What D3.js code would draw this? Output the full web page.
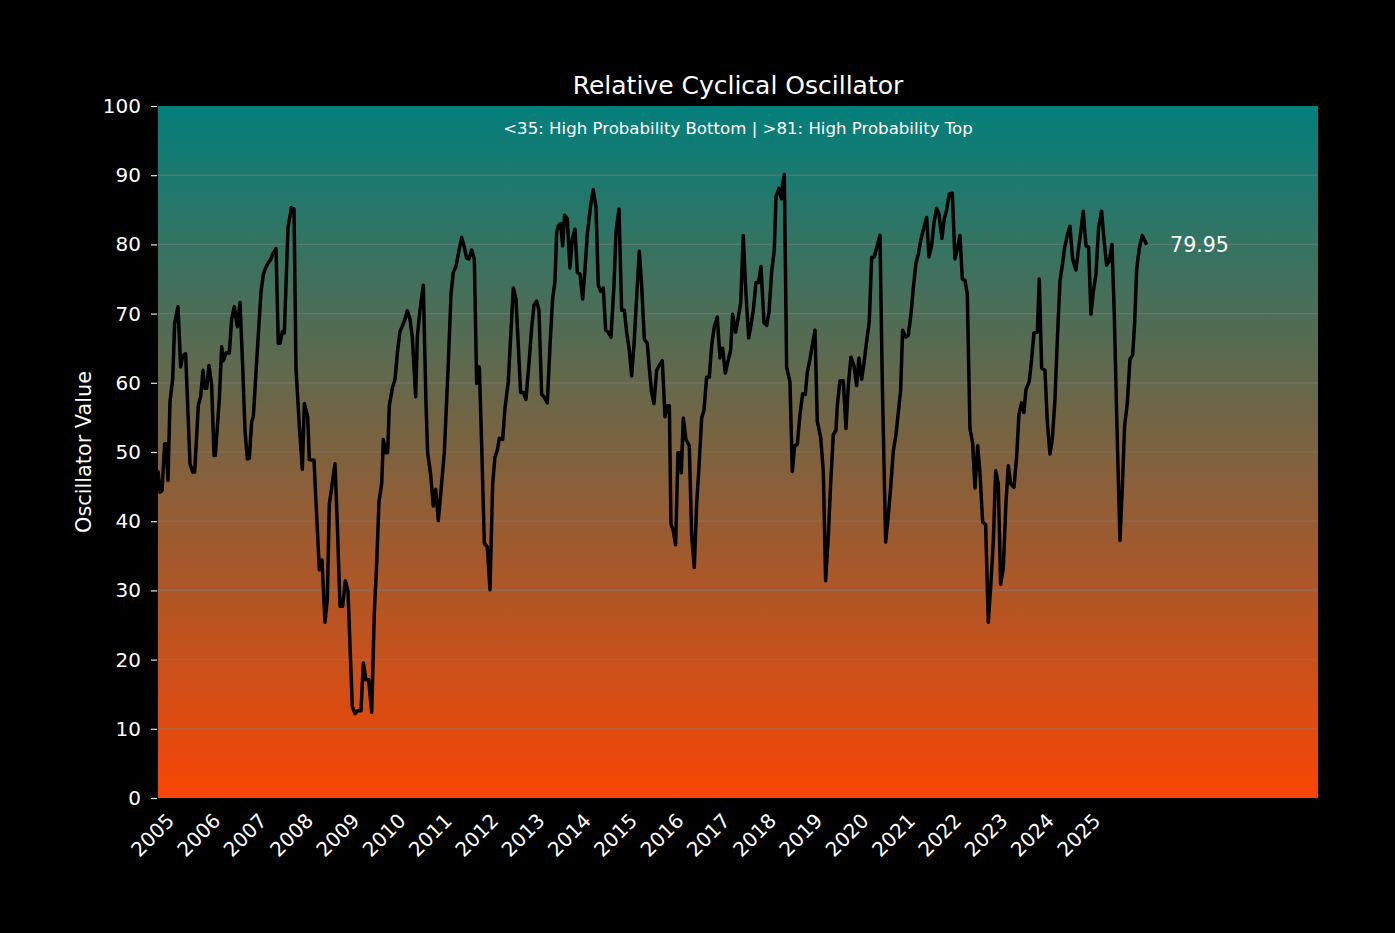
<!DOCTYPE html>
<html>
<head>
<meta charset="utf-8">
<script src="https://d3js.org/d3.v7.min.js"></script>
<style>
body { margin: 0; background: #000; }
svg text { font-family: "DejaVu Sans", sans-serif; fill: #fff; }
</style>
</head>
<body>
<div id="vis"></div>
<script>
const margin = { top: 106, right: 77, bottom: 135, left: 158 };
const width = 1395 - margin.left - margin.right;
const height = 933 - margin.top - margin.bottom;

// oscillator readings, dates as decimal years
const years = [
  2005.000, 2005.043, 2005.086, 2005.144, 2005.173, 2005.216, 2005.259, 2005.317, 2005.360, 2005.432,
  2005.489, 2005.533, 2005.597, 2005.691, 2005.749, 2005.792, 2005.871, 2005.921, 2005.972, 2006.008,
  2006.051, 2006.101, 2006.159, 2006.209, 2006.238, 2006.324, 2006.375, 2006.411, 2006.468, 2006.540,
  2006.591, 2006.648, 2006.713, 2006.771, 2006.828, 2006.879, 2006.929, 2006.972, 2007.023, 2007.059,
  2007.145, 2007.224, 2007.275, 2007.325, 2007.382, 2007.433, 2007.476, 2007.548, 2007.598, 2007.634,
  2007.685, 2007.728, 2007.807, 2007.879, 2007.937, 2007.980, 2008.052, 2008.117, 2008.160, 2008.232,
  2008.268, 2008.369, 2008.426, 2008.484, 2008.541, 2008.606, 2008.656, 2008.700, 2008.750, 2008.822,
  2008.872, 2008.930, 2008.987, 2009.045, 2009.103, 2009.160, 2009.196, 2009.254, 2009.311, 2009.383,
  2009.434, 2009.491, 2009.549, 2009.614, 2009.671, 2009.722, 2009.772, 2009.830, 2009.866, 2009.916,
  2009.959, 2009.995, 2010.060, 2010.118, 2010.175, 2010.225, 2010.283, 2010.334, 2010.384, 2010.441,
  2010.492, 2010.564, 2010.600, 2010.657, 2010.729, 2010.787, 2010.823, 2010.888, 2010.945, 2010.996,
  2011.053, 2011.111, 2011.183, 2011.269, 2011.327, 2011.377, 2011.435, 2011.485, 2011.557, 2011.608,
  2011.665, 2011.715, 2011.773, 2011.831, 2011.881, 2011.939, 2011.989, 2012.047, 2012.111, 2012.169,
  2012.227, 2012.277, 2012.327, 2012.371, 2012.443, 2012.493, 2012.565, 2012.615, 2012.673, 2012.730,
  2012.781, 2012.831, 2012.889, 2012.946, 2013.011, 2013.069, 2013.119, 2013.177, 2013.227, 2013.285,
  2013.335, 2013.407, 2013.465, 2013.522, 2013.573, 2013.609, 2013.645, 2013.695, 2013.738, 2013.781,
  2013.839, 2013.896, 2013.947, 2014.004, 2014.055, 2014.112, 2014.170, 2014.220, 2014.271, 2014.343,
  2014.400, 2014.458, 2014.508, 2014.559, 2014.616, 2014.667, 2014.724, 2014.782, 2014.847, 2014.890,
  2014.955, 2015.012, 2015.070, 2015.120, 2015.178, 2015.228, 2015.279, 2015.336, 2015.394, 2015.444,
  2015.502, 2015.566, 2015.610, 2015.660, 2015.710, 2015.768, 2015.826, 2015.890, 2015.948, 2015.998,
  2016.042, 2016.078, 2016.128, 2016.178, 2016.229, 2016.272, 2016.301, 2016.344, 2016.401, 2016.473,
  2016.524, 2016.581, 2016.632, 2016.689, 2016.740, 2016.790, 2016.848, 2016.905, 2016.956, 2017.013,
  2017.078, 2017.136, 2017.193, 2017.251, 2017.308, 2017.366, 2017.409, 2017.474, 2017.517, 2017.582,
  2017.639, 2017.690, 2017.755, 2017.805, 2017.855, 2017.913, 2017.971, 2018.021, 2018.086, 2018.143,
  2018.194, 2018.251, 2018.309, 2018.345, 2018.410, 2018.460, 2018.489, 2018.525, 2018.575, 2018.647,
  2018.698, 2018.748, 2018.806, 2018.863, 2018.921, 2018.978, 2019.022, 2019.079, 2019.129, 2019.187,
  2019.237, 2019.309, 2019.367, 2019.417, 2019.475, 2019.525, 2019.583, 2019.640, 2019.669, 2019.727,
  2019.799, 2019.857, 2019.907, 2019.964, 2020.029, 2020.087, 2020.137, 2020.195, 2020.245, 2020.303,
  2020.360, 2020.411, 2020.468, 2020.519, 2020.591, 2020.641, 2020.713, 2020.771, 2020.821, 2020.879,
  2020.936, 2020.987, 2021.037, 2021.080, 2021.145, 2021.203, 2021.260, 2021.311, 2021.368, 2021.419,
  2021.469, 2021.527, 2021.598, 2021.649, 2021.706, 2021.757, 2021.814, 2021.865, 2021.929, 2021.980,
  2022.030, 2022.088, 2022.153, 2022.210, 2022.268, 2022.318, 2022.369, 2022.426, 2022.477, 2022.534,
  2022.592, 2022.642, 2022.700, 2022.750, 2022.808, 2022.872, 2022.930, 2022.988, 2023.038, 2023.089,
  2023.146, 2023.196, 2023.254, 2023.312, 2023.362, 2023.412, 2023.484, 2023.542, 2023.592, 2023.650,
  2023.700, 2023.743, 2023.815, 2023.866, 2023.916, 2023.988, 2024.031, 2024.082, 2024.154, 2024.204,
  2024.262, 2024.312, 2024.370, 2024.420, 2024.478, 2024.528, 2024.578, 2024.643, 2024.694, 2024.751,
  2024.823, 2024.881, 2024.938, 2024.981, 2025.039, 2025.096, 2025.147, 2025.197, 2025.255, 2025.312,
  2025.377, 2025.428, 2025.485, 2025.543, 2025.601, 2025.651, 2025.701, 2025.773, 2025.824, 2025.874,
  2025.932, 2025.989, 2026.047, 2026.090, 2026.133, 2026.191, 2026.255, 2026.298, 2026.349
];

const values = [
  47.3, 44.2, 44.4, 51.2, 51.2, 45.9, 57.3, 60.5, 68.6, 71.0,
  62.3, 63.9, 64.2, 48.3, 47.1, 47.1, 56.8, 58.0, 61.8, 59.2,
  59.2, 62.5, 59.6, 49.5, 49.5, 57.6, 65.2, 63.2, 64.3, 64.3,
  69.2, 71.0, 68.1, 71.6, 62.5, 53.1, 49.0, 49.1, 54.4, 55.1,
  64.7, 73.1, 75.7, 76.6, 77.4, 77.8, 78.6, 79.4, 65.7, 65.7,
  67.4, 67.2, 82.4, 85.3, 85.1, 62.1, 53.8, 47.5, 57.0, 55.1,
  48.9, 48.8, 40.9, 33.0, 34.4, 25.4, 28.7, 42.5, 44.8, 48.3,
  39.6, 27.7, 27.7, 31.4, 29.9, 19.6, 13.2, 12.2, 12.6, 12.6,
  19.5, 17.1, 17.1, 12.4, 26.7, 33.8, 42.8, 45.4, 51.8, 49.9,
  49.9, 56.7, 59.2, 60.5, 64.7, 67.4, 68.3, 69.2, 70.4, 69.2,
  66.6, 58.0, 66.6, 70.5, 74.1, 57.0, 49.9, 46.7, 42.2, 44.6,
  40.1, 44.4, 49.9, 62.8, 72.8, 76.0, 76.8, 78.6, 81.0, 79.8,
  78.0, 77.9, 79.2, 77.9, 59.9, 62.3, 51.2, 36.8, 36.3, 30.1,
  45.4, 49.3, 50.2, 52.0, 51.8, 56.3, 60.2, 66.6, 73.7, 72.1,
  65.4, 58.6, 58.6, 57.6, 62.8, 67.9, 71.2, 71.8, 70.5, 58.3,
  58.0, 57.1, 65.4, 72.1, 74.7, 81.8, 82.7, 83.0, 79.8, 84.2,
  83.7, 76.6, 80.8, 82.2, 76.0, 75.7, 72.1, 76.3, 81.5, 85.6,
  87.9, 85.4, 74.1, 73.2, 73.7, 67.6, 67.3, 66.6, 74.1, 81.8,
  85.1, 70.5, 70.5, 67.3, 64.7, 61.0, 65.4, 72.4, 79.0, 74.1,
  66.3, 65.7, 62.1, 58.6, 57.0, 61.8, 62.5, 63.2, 55.1, 56.7,
  56.7, 39.6, 38.6, 36.6, 49.9, 49.9, 47.0, 54.9, 51.8, 50.9,
  38.0, 33.3, 42.5, 48.6, 54.9, 56.0, 60.8, 60.8, 65.4, 68.1,
  69.5, 63.6, 65.0, 61.4, 63.1, 64.7, 69.9, 67.3, 68.9, 71.5,
  81.3, 73.7, 66.5, 68.3, 70.5, 74.5, 74.5, 76.8, 68.7, 68.3,
  70.2, 76.0, 79.2, 86.9, 88.1, 86.6, 88.7, 90.1, 62.3, 60.1,
  47.2, 50.9, 51.1, 55.4, 58.4, 58.3, 61.5, 63.4, 65.4, 67.6,
  54.4, 52.2, 47.3, 31.4, 37.7, 45.4, 52.5, 53.1, 56.7, 60.3,
  60.3, 53.4, 59.6, 63.7, 62.5, 59.6, 63.6, 60.5, 62.8, 66.0,
  68.9, 78.1, 78.2, 79.5, 81.3, 60.2, 37.0, 40.9, 44.8, 50.2,
  52.5, 55.7, 58.9, 67.6, 66.6, 66.9, 69.9, 73.7, 77.3, 78.6,
  80.5, 82.1, 83.9, 78.2, 79.8, 83.1, 85.2, 84.4, 80.9, 83.7,
  85.0, 87.3, 87.4, 77.9, 79.5, 81.3, 75.0, 74.8, 72.8, 53.4,
  51.3, 44.8, 50.9, 47.0, 39.9, 39.5, 25.4, 31.2, 37.0, 47.3,
  45.4, 30.9, 33.2, 42.8, 48.0, 45.4, 44.9, 49.3, 55.4, 57.1,
  55.7, 59.0, 60.2, 63.4, 67.2, 67.3, 75.0, 62.1, 61.8, 54.4,
  49.7, 51.8, 57.6, 66.0, 74.7, 77.0, 79.5, 81.5, 82.6, 77.9,
  76.3, 79.5, 82.4, 84.8, 79.8, 79.6, 69.9, 73.1, 75.7, 82.4,
  84.8, 80.8, 77.0, 77.6, 80.0, 69.9, 55.7, 37.2, 44.8, 53.8,
  57.0, 63.4, 64.0, 68.5, 76.3, 79.5, 81.3, 80.7, 79.95
];

const yearTicks = d3.range(2005, 2026);
const valueTicks = d3.range(0, 101, 10);
const gridValues = d3.range(10, 100, 10);

const chartTitle = 'Relative Cyclical Oscillator';
const note = '<35: High Probability Bottom | >81: High Probability Top';

const data = years.map((yr, i) => ({ year: yr, value: values[i] }));

const svg = d3.select('#vis')
    .append('svg')
    .attr('width', width + margin.left + margin.right)
    .attr('height', height + margin.top + margin.bottom)
    .style('background', '#000')
    .append('g')
    .attr('transform', `translate(${margin.left},${margin.top})`);

const xScale = d3.scaleLinear()
    .domain([2005, 2030.05])
    .range([0, width]);

const yScale = d3.scaleLinear()
    .domain([0, 100])
    .range([height, 0]);

function drawBackground(){
    const grad = svg.append('defs')
        .append('linearGradient')
        .attr('id', 'bg')
        .attr('x1', 0).attr('y1', 0)
        .attr('x2', 0).attr('y2', 1);
    grad.append('stop').attr('offset', '0%').attr('stop-color', '#037f7b');
    grad.append('stop').attr('offset', '100%').attr('stop-color', '#f94503');

    svg.append('rect')
        .attr('width', width)
        .attr('height', height)
        .attr('fill', 'url(#bg)');

    svg.selectAll('.grid')
        .data(gridValues)
        .join('line')
        .attr('class', 'grid')
        .attr('x1', 0)
        .attr('x2', width)
        .attr('y1', d => yScale(d))
        .attr('y2', d => yScale(d))
        .attr('stroke', '#808080')
        .attr('stroke-opacity', 0.5)
        .attr('stroke-width', 1.2);
}

function drawAxes(){
    const yAxis = d3.axisLeft(yScale)
        .tickValues(valueTicks)
        .tickSize(6)
        .tickPadding(10);

    const yg = svg.append('g')
        .attr('transform', 'translate(-1,0)')
        .call(yAxis);
    yg.select('.domain').remove();
    yg.selectAll('line').attr('stroke', '#e6e6e6').attr('stroke-width', 1.2);
    yg.attr('font-size', null).attr('font-family', null);
    yg.selectAll('text').style('font-size', '20px');

    const xAxis = d3.axisBottom(xScale)
        .tickValues(yearTicks)
        .tickSize(0)
        .tickFormat(d3.format('d'));

    const xg = svg.append('g')
        .attr('transform', `translate(0,${height})`)
        .call(xAxis);
    xg.select('.domain').remove();
    xg.attr('font-size', null).attr('font-family', null);
    xg.selectAll('text')
        .attr('y', null)
        .attr('dy', null)
        .attr('text-anchor', 'end')
        .attr('transform', 'translate(17,24) rotate(-45)')
        .style('font-size', '20px');

    svg.append('text')
        .attr('transform', `translate(-67,${height / 2}) rotate(-90)`)
        .attr('text-anchor', 'middle')
        .style('font-size', '20.8px')
        .text('Oscillator Value');

    svg.append('text')
        .attr('x', width / 2)
        .attr('y', -12)
        .attr('text-anchor', 'middle')
        .style('font-size', '25px')
        .text(chartTitle);

    svg.append('text')
        .attr('x', width / 2)
        .attr('y', 27.5)
        .attr('text-anchor', 'middle')
        .style('font-size', '16.6px')
        .text(note);
}

function drawLine(){
    const line = d3.line()
        .x(d => xScale(d.year))
        .y(d => yScale(d.value));

    svg.append('path')
        .datum(data)
        .attr('fill', 'none')
        .attr('stroke', '#000')
        .attr('stroke-width', 3.5)
        .attr('stroke-linejoin', 'round')
        .attr('d', line);

    const last = data[data.length - 1];
    svg.append('text')
        .attr('x', xScale(last.year) + 23.5)
        .attr('y', yScale(last.value))
        .attr('dy', '0.35em')
        .style('font-size', '20.5px')
        .text(last.value.toFixed(2));
}

drawBackground()
drawAxes()
drawLine()
</script>
</body>
</html>
